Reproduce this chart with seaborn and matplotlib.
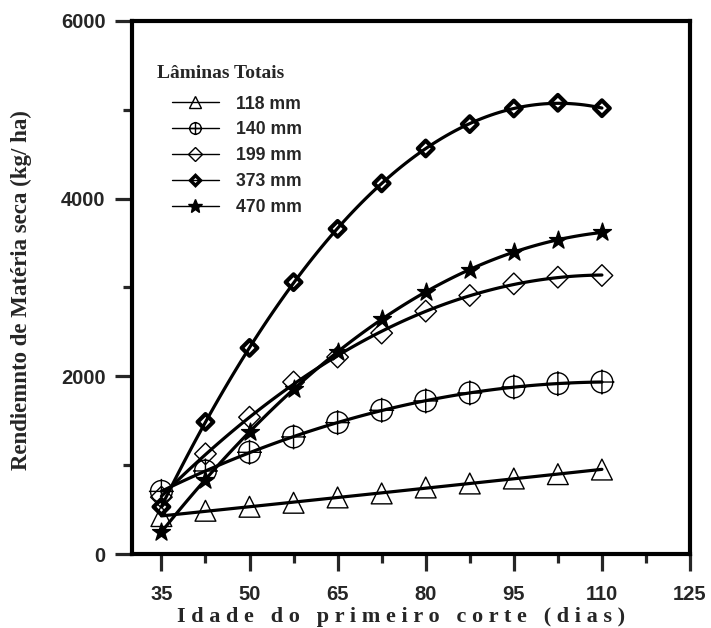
import numpy as np
import matplotlib
matplotlib.use("Agg")
import matplotlib.pyplot as plt
from matplotlib.path import Path
from matplotlib.lines import Line2D
import seaborn as sns

# dados
idade = [35, 42.5, 50, 57.5, 65, 72.5, 80, 87.5, 95, 102.5, 110]
lam_118 = [427, 487, 532, 577, 637, 682, 749, 794, 850, 899, 951]
lam_140 = [705, 935, 1145, 1318, 1479, 1618, 1723, 1813, 1880, 1918, 1936]
lam_199 = [640, 1128, 1540, 1936, 2217, 2487, 2734, 2910, 3041, 3116, 3135]
lam_373 = [531, 1487, 2320, 3060, 3660, 4172, 4565, 4839, 5015, 5079, 5018]
lam_470 = [251, 831, 1374, 1862, 2273, 2648, 2947, 3199, 3397, 3536, 3622]
rotulos = ["118 mm", "140 mm", "199 mm", "373 mm", "470 mm"]

sns.set_style("ticks")
plt.rcParams["font.family"] = ["Liberation Sans", "DejaVu Sans"]

# marcador circulo com cruz
circulo_cruz = Path.make_compound_path(
    Path.unit_circle(),
    Path([[-1.15, 0], [1.15, 0]], [Path.MOVETO, Path.LINETO]),
    Path([[0, -1.15], [0, 1.15]], [Path.MOVETO, Path.LINETO]),
)

# marcador, tamanho no grafico, tamanho na legenda, espessura, preenchido
estilos = [
    dict(marker="^", s=15, ms=9, lw=1.0),
    dict(marker=circulo_cruz, s=18, ms=9.5, lw=1.0),
    dict(marker="D", s=11, ms=7, lw=1.0),
    dict(marker="D", s=8, ms=5.5, lw=3.0),
    dict(marker="*", s=13.5, ms=10, lw=1.0, fill=True),
]
series = [lam_118, lam_140, lam_199, lam_373, lam_470]

fig = plt.figure(figsize=(7.11, 6.28), dpi=100)
ax = fig.add_axes([0.1857, 0.1178, 0.7848, 0.8488])

for valores, est in zip(series, estilos):
    sns.regplot(x=np.array(idade), y=np.array(valores), order=2, ci=None,
                scatter=False, ax=ax, line_kws=dict(color="black", lw=2.3))
    ax.scatter(idade, valores, marker=est["marker"], s=est["s"] ** 2,
               facecolors="black" if est.get("fill") else "none",
               edgecolors="black", linewidths=est["lw"], zorder=4)

ax.set_xlim(30, 125)
ax.set_ylim(0, 6000)
ax.set_xticks([35, 50, 65, 80, 95, 110, 125])
ax.set_xticks(np.arange(42.5, 125, 15), minor=True)
ax.set_yticks([0, 2000, 4000, 6000])
ax.set_yticks([1000, 3000, 5000], minor=True)
ax.tick_params(which="major", direction="out", length=12, width=2.3,
               labelsize=14.5, top=False, right=False)
ax.tick_params(which="minor", direction="out", length=6.5, width=2.3,
               top=False, right=False)
ax.tick_params(axis="x", which="major", pad=10)
ax.tick_params(axis="y", which="major", pad=7)
for lab in ax.get_xticklabels() + ax.get_yticklabels():
    lab.set_fontweight("bold")
for sp in ax.spines.values():
    sp.set_linewidth(3)
    sp.set_color("black")

ax.set_ylabel("Rendiemnto de Matéria seca (kg/ ha)", family="Liberation Serif",
              fontweight="bold", fontsize=16.5)
ax.yaxis.label.set_va("center")
ax.yaxis.set_label_coords(-0.199, 0.495)
ax.set_xlabel(" ".join("Idade do primeiro corte (dias)"),
              family="Liberation Serif", fontweight="bold", fontsize=16)
ax.xaxis.label.set_va("center")
ax.xaxis.set_label_coords(0.482, -0.118)

# legenda manual
ax.text(0.0448, 0.902, "Lâminas Totais", transform=ax.transAxes, va="center",
        ha="left", family="Liberation Serif", fontweight="bold", fontsize=14)
handles = []
for est in estilos:
    handles.append(Line2D([], [], color="black", lw=1.0, marker=est["marker"],
                          markersize=est["ms"],
                          markerfacecolor="black" if est.get("fill") else "none",
                          markeredgecolor="black",
                          markeredgewidth=2.5 if est["lw"] > 2 else 1.0))
leg = ax.legend(handles, rotulos, loc="upper left", bbox_to_anchor=(0.0717, 0.86),
                frameon=False, handlelength=2.65, handletextpad=0.98, labelspacing=0.5,
                prop=dict(weight="bold", size=12.7), borderaxespad=0, borderpad=0)

fig.savefig("out.png", dpi=100)
